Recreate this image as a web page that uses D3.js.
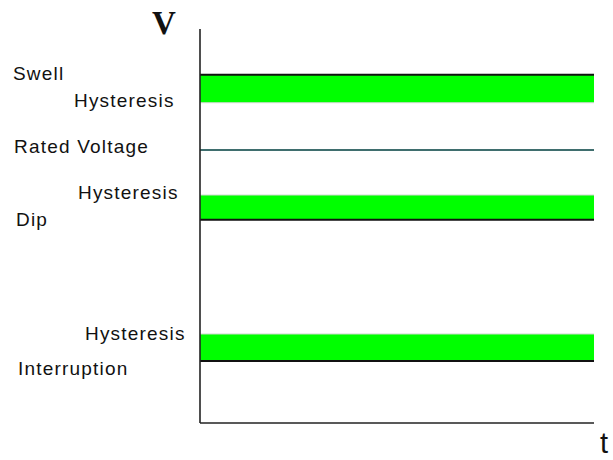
<!DOCTYPE html>
<html>
<head>
<meta charset="utf-8">
<script src="https://cdn.jsdelivr.net/npm/d3@7"></script>
<style>
html, body { margin: 0; padding: 0; background: #fff; }
svg { display: block; }
</style>
</head>
<body>
<svg id="chart" width="613" height="460"></svg>
<script>
// Levels in % of rated voltage
const bandNames = ["Swell", "Dip", "Interruption"];
const thresholds = [127.5, 74.4, 22.7];      // threshold line (black)
const hysteresisEdges = [117.3, 83.5, 32.6]; // other edge of hysteresis band
const ratedVoltage = 100;
const axisMax = 144.3;
const timeDomain = [0, 10];
const axisLabels = ["V", "t"];
const sideLabels = ["Swell", "Hysteresis", "Rated Voltage", "Hysteresis", "Dip", "Hysteresis", "Interruption"];

const svg = d3.select("#chart");
const x = d3.scaleLinear().domain(timeDomain).range([200, 594]);
const y = d3.scaleLinear().domain([0, axisMax]).range([423, 29]);

// bands
const bands = bandNames.map((n, i) => ({ name: n, t: thresholds[i], h: hysteresisEdges[i] }));
svg.selectAll("rect.band").data(bands).enter().append("rect")
  .attr("class", "band")
  .attr("x", x(timeDomain[0]))
  .attr("width", x(timeDomain[1]) - x(timeDomain[0]))
  .attr("y", d => y(Math.max(d.t, d.h)))
  .attr("height", d => Math.abs(y(d.t) - y(d.h)))
  .attr("fill", "#00ff00");
// faint edge on hysteresis side
svg.selectAll("line.hedge").data(bands).enter().append("line")
  .attr("x1", x(timeDomain[0])).attr("x2", x(timeDomain[1]))
  .attr("y1", d => y(d.h)).attr("y2", d => y(d.h))
  .attr("stroke", "#d0d8d0").attr("stroke-width", 1);
// threshold lines
svg.selectAll("line.thr").data(bands).enter().append("line")
  .attr("x1", x(timeDomain[0])).attr("x2", x(timeDomain[1]))
  .attr("y1", d => y(d.t)).attr("y2", d => y(d.t))
  .attr("stroke", "#111").attr("stroke-width", 2);
// rated voltage line
svg.append("line")
  .attr("x1", x(timeDomain[0])).attr("x2", x(timeDomain[1]))
  .attr("y1", y(ratedVoltage)).attr("y2", y(ratedVoltage))
  .attr("stroke", "#3f6e6e").attr("stroke-width", 2);

// axes
svg.append("line")
  .attr("x1", x(timeDomain[0])).attr("x2", x(timeDomain[0]))
  .attr("y1", y(axisMax)).attr("y2", y(0))
  .attr("stroke", "#222").attr("stroke-width", 1.6);
svg.append("line")
  .attr("x1", x(timeDomain[0])).attr("x2", x(timeDomain[1]))
  .attr("y1", y(0)).attr("y2", y(0))
  .attr("stroke", "#222").attr("stroke-width", 1.6);

// axis letters
svg.append("text").text(axisLabels[0])
  .attr("x", 152).attr("y", 34)
  .attr("font-family", "'Liberation Serif', 'Times New Roman', serif")
  .attr("font-weight", "bold").attr("font-size", 33).attr("fill", "#111");
svg.append("text").text(axisLabels[1])
  .attr("x", 600).attr("y", 453)
  .attr("font-family", "'Liberation Sans', Arial, sans-serif")
  .attr("font-size", 29).attr("fill", "#111");

// side labels
const labelPos = [[13, 80], [74, 107], [14, 153], [78, 199], [16, 226], [85, 340], [18, 375]];
svg.selectAll("text.side").data(sideLabels).enter().append("text")
  .attr("class", "side")
  .text(d => d)
  .attr("x", (d, i) => labelPos[i][0])
  .attr("y", (d, i) => labelPos[i][1])
  .attr("font-family", "'Liberation Sans', Arial, sans-serif")
  .attr("font-size", 19)
  .attr("letter-spacing", 1.2)
  .attr("fill", "#111");
</script>
</body>
</html>
